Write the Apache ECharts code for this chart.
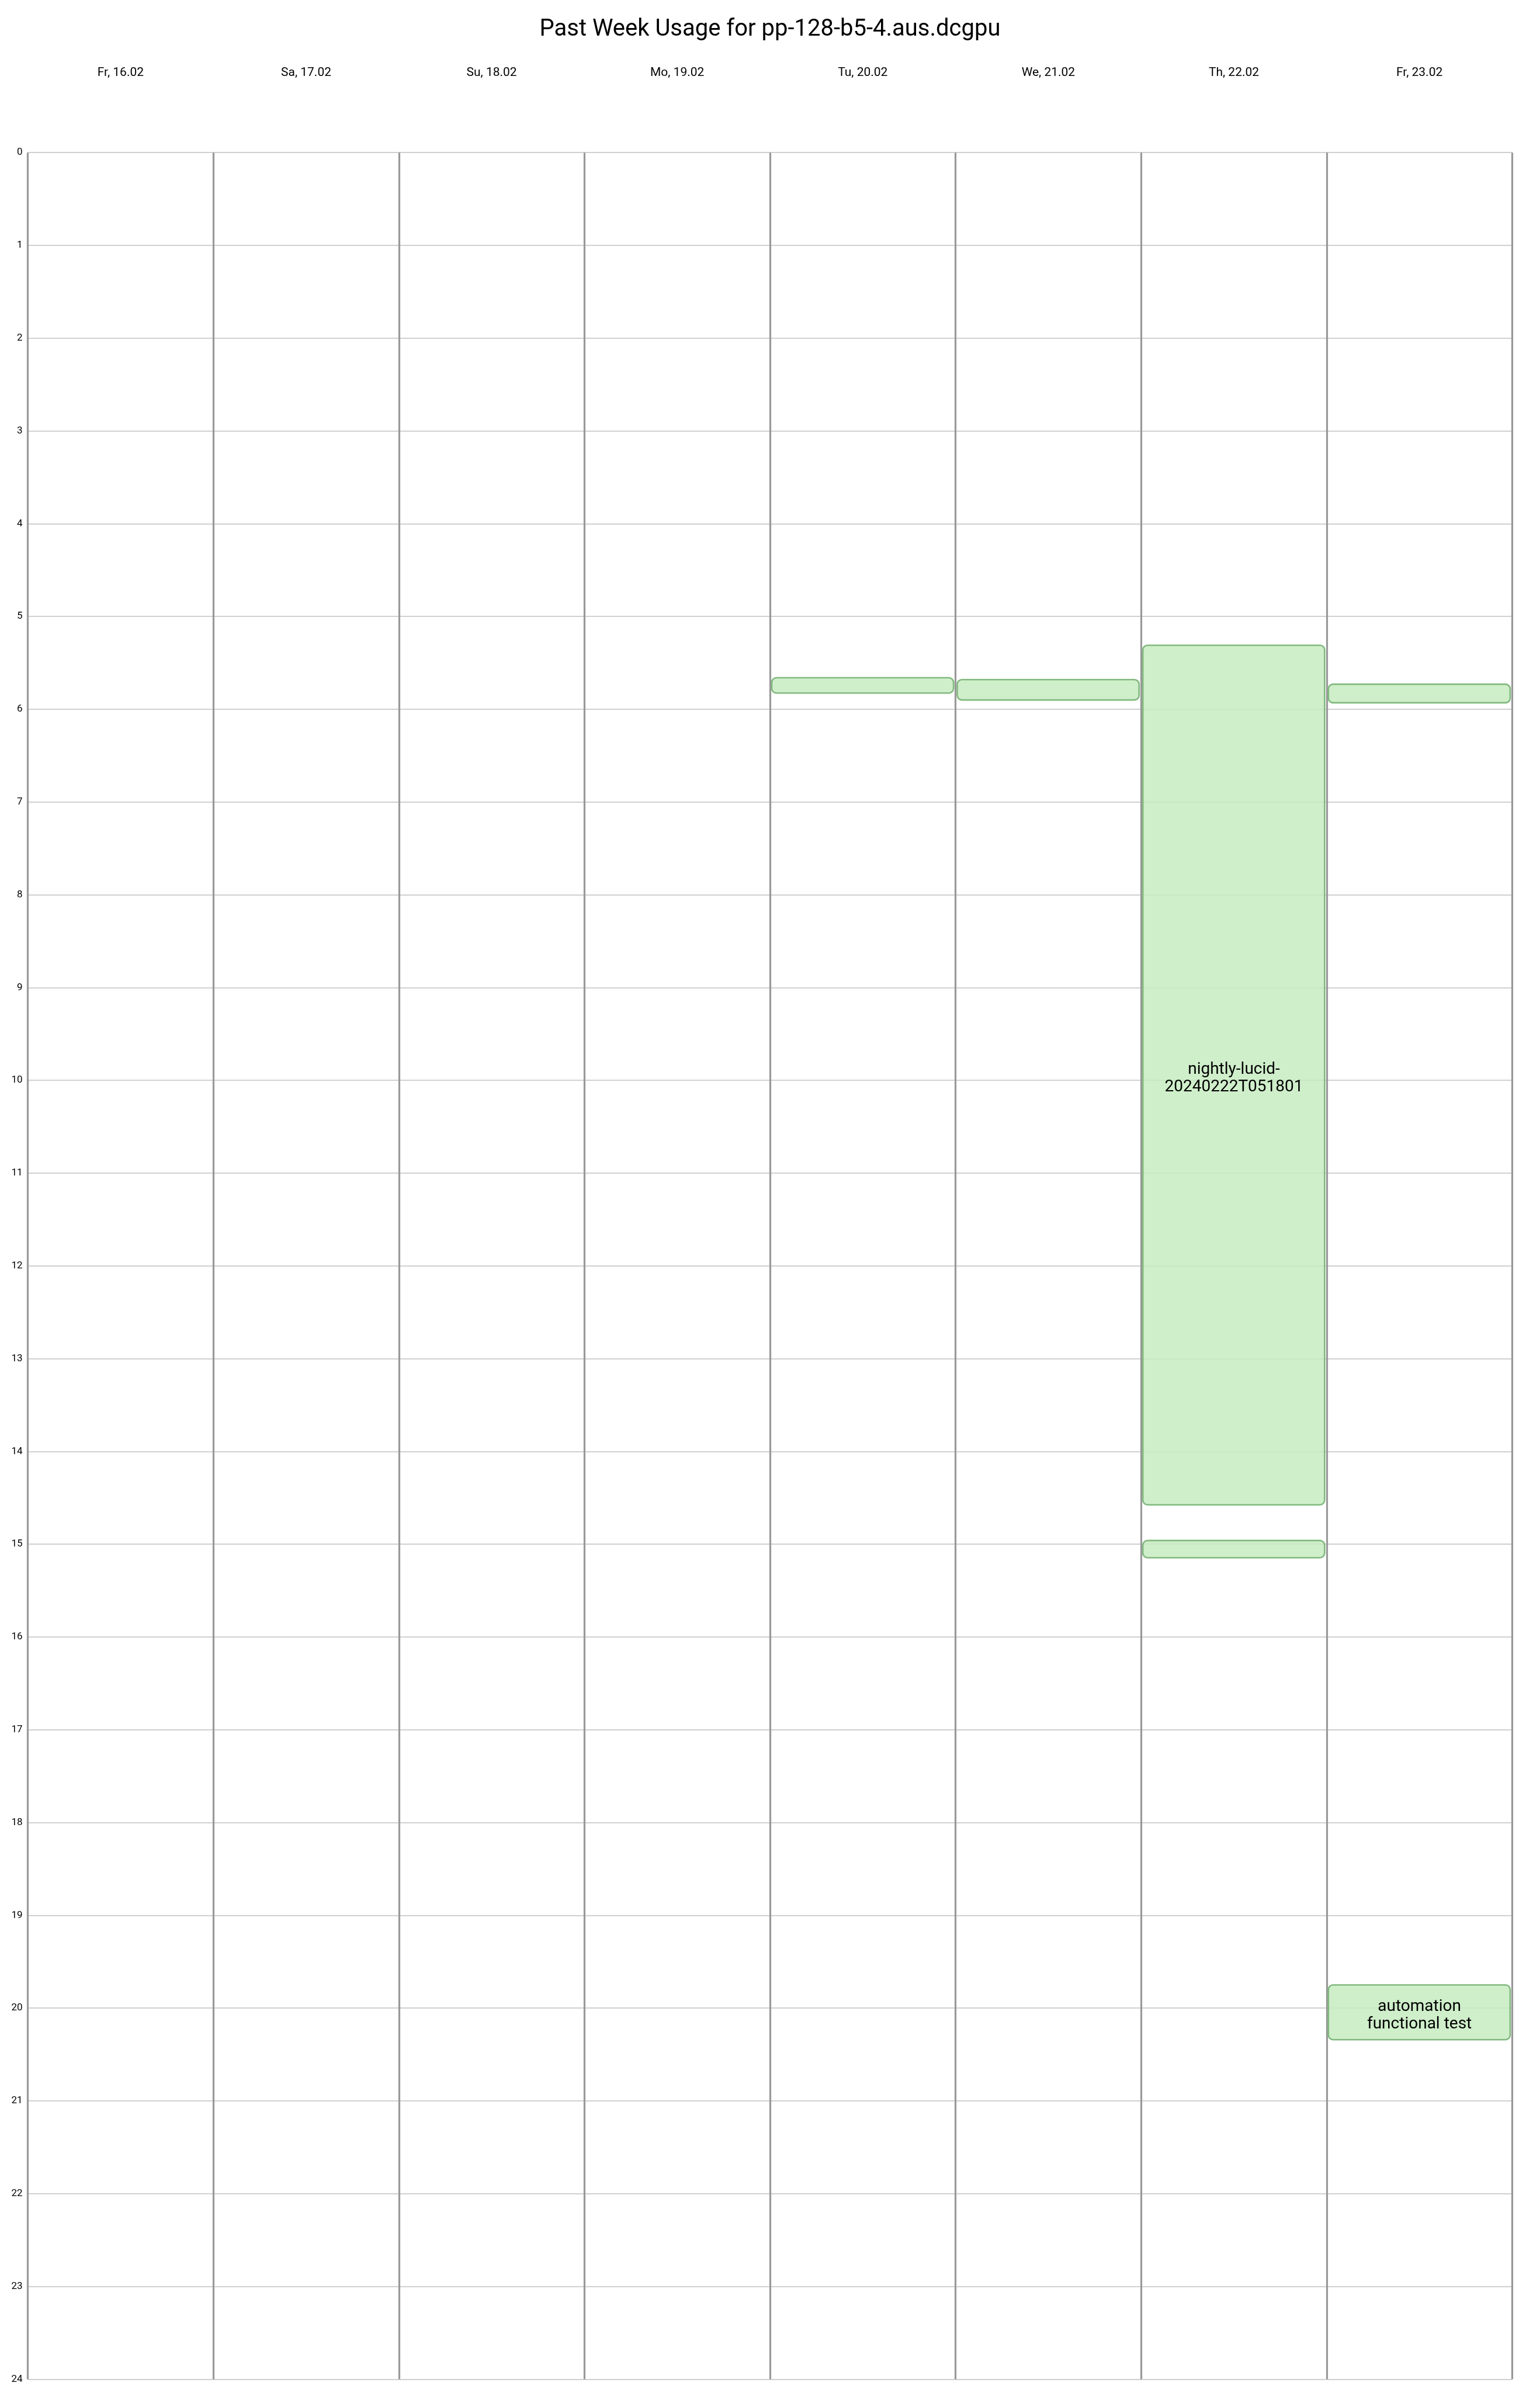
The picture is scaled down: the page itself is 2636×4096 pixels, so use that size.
<!DOCTYPE html>
<html>
<head>
<meta charset="utf-8">
<script src="https://cdn.jsdelivr.net/npm/echarts@6/dist/echarts.min.js"></script>
<style>
html,body{margin:0;padding:0;background:#fff;}
#chart{width:2636px;height:4096px;}
</style>
</head>
<body>
<div id="chart"></div>
<script>
const titleText = 'Past Week Usage for pp-128-b5-4.aus.dcgpu';
const days = ['Fr, 16.02', 'Sa, 17.02', 'Su, 18.02', 'Mo, 19.02', 'Tu, 20.02', 'We, 21.02', 'Th, 22.02', 'Fr, 23.02'];
const jobDay = [4, 5, 6, 6, 7, 7];
const jobStart = [5.66, 5.68, 5.31, 14.96, 5.73, 19.75];
const jobEnd = [5.825, 5.90, 14.575, 15.145, 5.93, 20.34];
const jobLabel = ['', '', 'nightly-lucid-\n20240222T051801', '', '', 'automation\nfunctional test'];

const data = jobDay.map((d, i) => [d, jobStart[i], jobEnd[i], jobLabel[i]]);
const FONT = 'Roboto, "Liberation Sans", sans-serif';

const chart = echarts.init(document.getElementById('chart'), null, {renderer: 'canvas'});
chart.setOption({
  backgroundColor: '#ffffff',
  animation: false,
  title: {
    text: titleText,
    left: 'center',
    top: 26,
    textStyle: {fontSize: 40, fontWeight: 'normal', fontFamily: FONT, color: '#000'}
  },
  grid: {left: 47.6, right: 47.6, top: 261.2, bottom: 23.6, containLabel: false},
  xAxis: {
    type: 'category',
    position: 'top',
    data: days,
    boundaryGap: true,
    axisLine: {show: false},
    axisTick: {show: false},
    axisLabel: {margin: 126.4, fontSize: 21, fontFamily: FONT, color: '#000'},
    splitLine: {show: true, showMinLine: true, showMaxLine: true, lineStyle: {color: '#999999', width: 3.2}}
  },
  yAxis: {
    type: 'value',
    inverse: true,
    min: 0,
    max: 24,
    interval: 1,
    axisLine: {show: false},
    axisTick: {show: false},
    axisLabel: {margin: 9, fontSize: 17, fontFamily: FONT, color: '#000', padding: [14, 0, 0, 0]},
    splitLine: {show: true, lineStyle: {color: '#c0c0c0', width: 1.6}}
  },
  series: [{
    type: 'custom',
    data: data,
    encode: {x: 0, y: [1, 2]},
    renderItem: function (params, api) {
      const s = api.coord([api.value(0), api.value(1)]);
      const e = api.coord([api.value(0), api.value(2)]);
      const bw = api.size([1, 0])[0];
      const x = s[0] - bw / 2 + 3;
      const w = bw - 6.5;
      const label = data[params.dataIndex][3];
      const children = [{
        type: 'rect',
        shape: {x: x, y: s[1], width: w, height: e[1] - s[1], r: 8},
        style: {fill: 'rgba(199,235,193,0.85)', stroke: '#82b97f', lineWidth: 2.6}
      }];
      if (label) {
        children.push({
          type: 'text',
          style: {
            x: s[0], y: (s[1] + e[1]) / 2 + 6,
            text: label,
            fill: '#000',
            font: '28px ' + FONT,
            lineHeight: 30,
            align: 'center',
            verticalAlign: 'middle'
          }
        });
      }
      return {type: 'group', children: children};
    }
  }]
});
</script>
</body>
</html>
